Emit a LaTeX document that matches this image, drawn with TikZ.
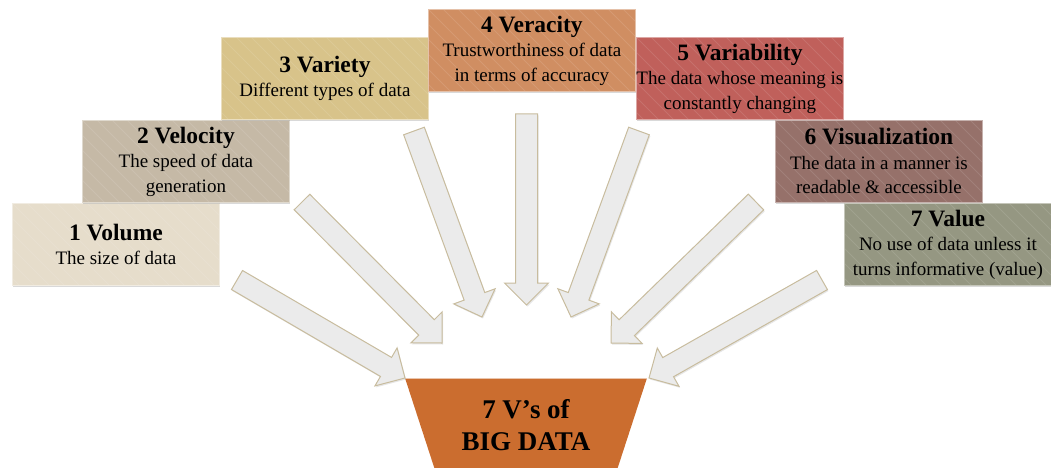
\documentclass[tikz,border=0pt]{standalone}
\usepackage{fontspec}
\setmainfont{Liberation Serif}
\usetikzlibrary{calc,shadows}
\definecolor{cvol}{HTML}{E6DDCB}
\definecolor{cvel}{HTML}{C5B9A6}
\definecolor{cvar}{HTML}{D8C38A}
\definecolor{cver}{HTML}{D08E62}
\definecolor{cvrb}{HTML}{C0605B}
\definecolor{cvis}{HTML}{96716A}
\definecolor{cval}{HTML}{959782}
\definecolor{cbig}{HTML}{CB6D2F}
\definecolor{arrowfill}{HTML}{EBEBEB}
\definecolor{arrowline}{HTML}{C8BC9E}
\tikzset{
  vbx/.style={fill=#1, draw=#1!55!white, line width=0.8pt,
    minimum width=207pt, minimum height=82pt, inner sep=0pt,
    anchor=north west, align=center,
    font=\fontsize{19}{24.5}\selectfont,
    drop shadow={opacity=0.3, shadow xshift=1pt, shadow yshift=-1.5pt},
    path picture={\foreach \k in {-7,...,15}{\draw[white,opacity=0.11,line width=0.8pt]
      ($(path picture bounding box.north west)+(\k*15pt,0pt)$) -- ++(100pt,-100pt);}}},
  barrow/.style={fill=arrowfill, draw=arrowline, line width=1pt, line join=miter,
    drop shadow={opacity=0.2, shadow xshift=1pt, shadow yshift=-1.5pt}},
  bigtxt/.style={align=center, font=\fontsize{27}{32}\selectfont\bfseries, inner sep=0pt}
}
\newcommand\ttlfont{\fontsize{23.5}{24.5}\selectfont\bfseries}
\newcommand\blockarrow[3]{%
  \coordinate (#3) at ($(#2)!22pt!(#1)$);
  \path[barrow] ($(#1)!11pt!90:(#2)$) -- ($(#3)!11pt!-90:(#1)$) -- ($(#3)!22pt!-90:(#1)$)
    -- (#2) -- ($(#3)!22pt!90:(#1)$) -- ($(#3)!11pt!90:(#1)$) -- ($(#1)!11pt!-90:(#2)$) -- cycle;
}
\begin{document}
\begin{tikzpicture}[x=1pt,y=-1pt]
\useasboundingbox (0,0) rectangle (1051,468);
% boxes
\node[vbx=cvol] (b1) at (12,203) {{\ttlfont 1 Volume}\\The size of data};
\node[vbx=cvel] (b2) at (82,120) {{\ttlfont 2 Velocity}\\The speed of data\\generation};
\node[vbx=cvar] (b3) at (221,37) {{\ttlfont 3 Variety}\\Different types of data};
\node[vbx=cver] (b4) at (428,9) {{\ttlfont 4 Veracity}\\Trustworthiness of data\\in terms of accuracy};
\node[vbx=cvrb] (b5) at (636,37) {{\ttlfont 5 Variability}\\The data whose meaning is\\constantly changing};
\node[vbx=cvis] (b6) at (775,120) {{\ttlfont 6 Visualization}\\The data in a manner is\\readable \& accessible};
\node[vbx=cval] (b7) at (844,203) {{\ttlfont 7 Value}\\No use of data unless it\\turns informative (value)};
% funnel
\coordinate (f1) at (405,378);
\coordinate (f2) at (647,378);
\coordinate (f3) at (617,470);
\coordinate (f4) at (435,470);
\fill[cbig] (f1) -- (f2) -- (f3) -- (f4) -- cycle;
\draw[cbig!40!white, line width=0.6pt] (f1) -- (f2);
\node[bigtxt] (bd) at (526,425) {7 V’s of\\BIG DATA};
% arrows
\coordinate (t1) at (237,280); \coordinate (p1) at (405,378);
\coordinate (t2) at (302,202); \coordinate (p2) at (442,343);
\coordinate (t3) at (414,131); \coordinate (p3) at (482,317);
\coordinate (t4) at (526.5,114); \coordinate (p4) at (526.5,305);
\coordinate (t5) at (639,131); \coordinate (p5) at (571,317);
\coordinate (t6) at (756,202); \coordinate (p6) at (611,343);
\coordinate (t7) at (822,280); \coordinate (p7) at (649,378);
\blockarrow{t1}{p1}{n1}
\blockarrow{t2}{p2}{n2}
\blockarrow{t3}{p3}{n3}
\blockarrow{t4}{p4}{n4}
\blockarrow{t5}{p5}{n5}
\blockarrow{t6}{p6}{n6}
\blockarrow{t7}{p7}{n7}
\end{tikzpicture}
\end{document}
